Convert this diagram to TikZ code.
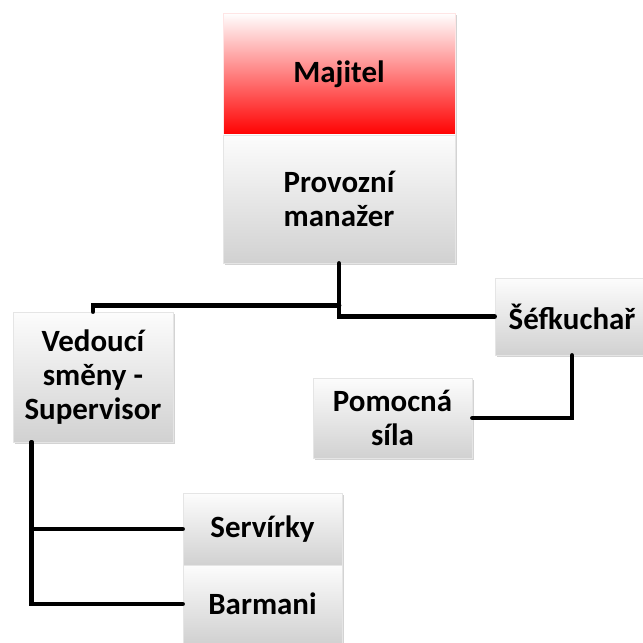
\documentclass[tikz,border=0pt]{standalone}
\usepackage{fontspec}
\setmainfont{Carlito}
\usetikzlibrary{shadows,calc}
\tikzset{
  box/.style={rectangle, align=center, inner sep=0pt,
    font=\bfseries\fontsize{22}{24}\selectfont,
    top color=gray!2, bottom color=gray!36, draw=gray!20, line width=0.6pt,
    drop shadow={shadow xshift=1.5pt, shadow yshift=-1.5pt, opacity=0.35}},
  redbox/.style={box, top color=white, bottom color=red, draw=red!10},
  spoj/.style={line width=3.4pt, line cap=round}
}
\begin{document}
\begin{tikzpicture}[x=0.025cm, y=-0.025cm]
\useasboundingbox (0,0) rectangle (643,643);
\clip (0,0) rectangle (643,643);
% horni dva bloky
\node[redbox, minimum width=232*0.025cm, minimum height=122*0.025cm] (majitel) at (339,74) {Majitel};
\node[box, minimum width=232*0.025cm, minimum height=128*0.025cm] (manazer) at (339,199) {Provozní\\manažer};
% druha uroven
\node[box, minimum width=160*0.025cm, minimum height=130*0.025cm] (vedouci) at (93,377) {Vedoucí\\směny -\\Supervisor};
\node[box, minimum width=154*0.025cm, minimum height=77*0.025cm] (sefkuchar) at (572,316.5) {Šéfkuchař};
\node[box, minimum width=159*0.025cm, minimum height=80*0.025cm] (pomocna) at (392.5,418) {Pomocná\\síla};
% treti uroven
\node[box, minimum width=159*0.025cm, minimum height=72*0.025cm] (servirky) at (262.5,529) {Servírky};
\node[box, minimum width=159*0.025cm, minimum height=78*0.025cm] (barmani) at (262.5,604) {Barmani};
% spojnice
\coordinate (rozcesti) at ($(manazer.south)+(0,42)$);
\coordinate (paticka) at ($(vedouci.south west)+(19,0)$);
\draw[spoj] (manazer.south) |- (sefkuchar.west);
\draw[spoj] (rozcesti) -| (vedouci.north);
\draw[spoj] (sefkuchar.south) |- (pomocna.east);
\draw[spoj] (paticka) |- (servirky.west);
\draw[spoj] (paticka) |- (barmani.west);
\end{tikzpicture}
\end{document}
